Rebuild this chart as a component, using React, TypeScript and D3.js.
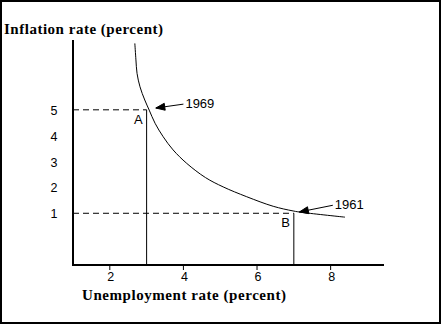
import React from "react";
import * as d3 from "d3";

const curveX = [2.68, 2.71, 2.74, 2.82, 2.95, 3.07, 3.23, 3.45, 3.72, 4.09, 4.6, 5.08, 5.72, 6.44, 6.98, 7.25, 8.39];
const curveY = [7.57, 6.93, 6.41, 5.89, 5.38, 4.99, 4.48, 3.96, 3.45, 2.93, 2.38, 2.02, 1.64, 1.27, 1.09, 1.03, 0.85];

const xTicks = [2, 4, 6, 8];
const yTicks = [1, 2, 3, 4, 5];

const pointNames = ["A", "B"];
const pointX = [3, 7];
const pointY = [5, 1];

const yearLabels = ["1969", "1961"];
const arrowTailX = [4.0, 8.06];
const arrowTailY = [5.22, 1.31];
const arrowTipX = [3.25, 7.15];
const arrowTipY = [5.07, 1.05];

const W = 442;
const H = 325;

export default function App() {
  const x = d3.scaleLinear().domain([1, 9.45]).range([73, 384]);
  const y = d3.scaleLinear().domain([-1, 7.7]).range([265, 40]);

  const pts: [number, number][] = curveX.map((v, i) => [x(v), y(curveY[i])]);
  const line = d3.line().curve(d3.curveCatmullRom.alpha(0.5))(pts) || "";

  const arrowHead = (tx: number, ty: number, fx: number, fy: number) => {
    const ang = Math.atan2(ty - fy, tx - fx);
    const len = 9;
    const hw = 3.5;
    const bx = tx - len * Math.cos(ang);
    const by = ty - len * Math.sin(ang);
    const px = -Math.sin(ang) * hw;
    const py = Math.cos(ang) * hw;
    return `M${tx},${ty}L${bx + px},${by + py}L${bx - px},${by - py}Z`;
  };

  return (
    <svg
      width={W}
      height={H}
      style={{ position: "absolute", left: 0, top: 0, background: "#fff" }}
    >
      <rect x={1} y={1} width={W - 3} height={H - 3} fill="#fff" stroke="#000" strokeWidth={2} />

      <text
        x={4}
        y={34}
        fontFamily="Liberation Serif, serif"
        fontWeight="bold"
        fontSize={15}
        textLength={159}
        lengthAdjust="spacing"
      >
        Inflation rate (percent)
      </text>
      <text
        x={82}
        y={300}
        fontFamily="Liberation Serif, serif"
        fontWeight="bold"
        fontSize={15}
        textLength={204}
        lengthAdjust="spacing"
      >
        Unemployment rate (percent)
      </text>

      {pointNames.map((n, i) => (
        <line
          key={"d" + n}
          x1={x(1)}
          x2={x(pointX[i])}
          y1={y(pointY[i])}
          y2={y(pointY[i])}
          stroke="#000"
          strokeWidth={1}
          strokeDasharray="6,4"
        />
      ))}
      {pointNames.map((n, i) => (
        <line
          key={"v" + n}
          x1={x(pointX[i])}
          x2={x(pointX[i])}
          y1={y(pointY[i])}
          y2={y(-1)}
          stroke="#000"
          strokeWidth={1}
        />
      ))}
      {pointNames.map((n, i) => (
        <text
          key={"t" + n}
          x={x(pointX[i]) - 4}
          y={y(pointY[i]) + 14}
          textAnchor="end"
          fontFamily="Liberation Sans, Arial, sans-serif"
          fontSize={13}
        >
          {n}
        </text>
      ))}

      <path d={line} fill="none" stroke="#000" strokeWidth={1} />

      <line x1={x(1)} x2={x(1)} y1={y(7.7)} y2={y(-1) + 1} stroke="#000" strokeWidth={2} />
      <line x1={x(1) - 1} x2={x(9.45)} y1={y(-1)} y2={y(-1)} stroke="#000" strokeWidth={2} />

      {xTicks.map((t) => (
        <g key={"xt" + t}>
          <line x1={x(t)} x2={x(t)} y1={y(-1)} y2={y(-1) + 5} stroke="#000" strokeWidth={1} />
          <text
            x={x(t) + 1}
            y={281}
            textAnchor="middle"
            fontFamily="Liberation Sans, Arial, sans-serif"
            fontSize={12.5}
          >
            {t}
          </text>
        </g>
      ))}
      {yTicks.map((t) => (
        <text
          key={"yt" + t}
          x={54}
          y={y(t) + 1}
          textAnchor="middle"
          dominantBaseline="central"
          fontFamily="Liberation Sans, Arial, sans-serif"
          fontSize={12.5}
        >
          {t}
        </text>
      ))}

      {yearLabels.map((lab, i) => {
        const tx = x(arrowTipX[i]);
        const ty = y(arrowTipY[i]);
        const fx = x(arrowTailX[i]);
        const fy = y(arrowTailY[i]);
        return (
          <g key={lab}>
            <line x1={fx} y1={fy} x2={tx} y2={ty} stroke="#000" strokeWidth={1} />
            <path d={arrowHead(tx, ty, fx, fy)} fill="#000" stroke="#000" strokeWidth={1} />
            <text
              x={fx + 2}
              y={fy - 1}
              dominantBaseline="central"
              fontFamily="Liberation Sans, Arial, sans-serif"
              fontSize={13}
            >
              {lab}
            </text>
          </g>
        );
      })}
    </svg>
  );
}
